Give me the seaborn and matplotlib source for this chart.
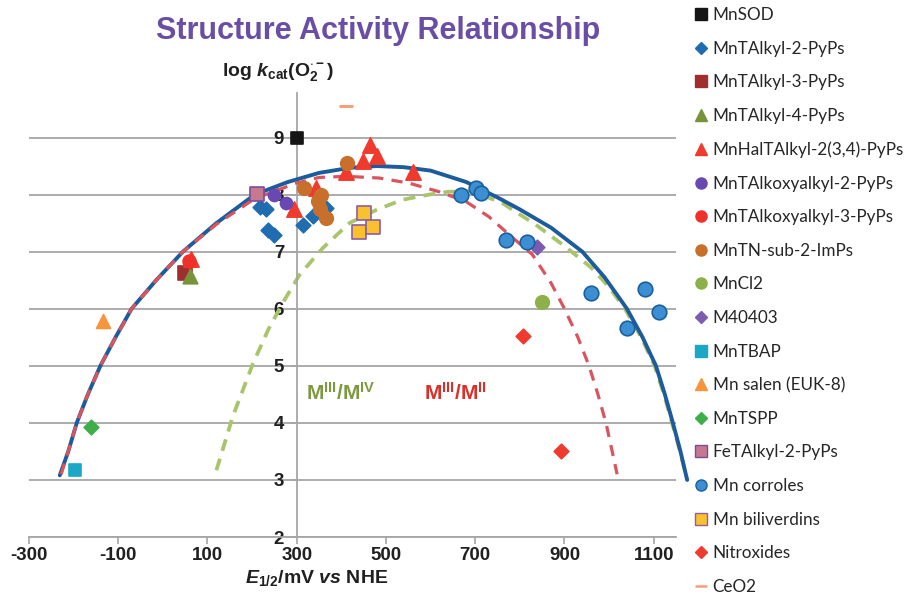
import matplotlib
matplotlib.use("Agg")
import matplotlib.pyplot as plt
import seaborn as sns
import pandas as pd

# ---------------- data ----------------
series = [
    "MnSOD", "MnTAlkyl-2-PyPs", "MnTAlkyl-3-PyPs", "MnTAlkyl-4-PyPs",
    "MnHalTAlkyl-2(3,4)-PyPs", "MnTAlkoxyalkyl-2-PyPs", "MnTAlkoxyalkyl-3-PyPs",
    "MnTN-sub-2-ImPs", "MnCl2", "M40403", "MnTBAP", "Mn salen (EUK-8)", "MnTSPP",
    "FeTAlkyl-2-PyPs", "Mn corroles", "Mn biliverdins", "Nitroxides", "CeO2",
]

mnsod_x = [300]
mnsod_y = [9.0]
alkyl2_x = [217, 232, 236, 250, 314, 336, 366]
alkyl2_y = [7.79, 7.74, 7.38, 7.29, 7.47, 7.63, 7.76]
alkyl3_x = [50]
alkyl3_y = [6.63]
alkyl4_x = [60]
alkyl4_y = [6.57]
hal_x = [464, 448, 481, 411, 560, 344, 293, 62]
hal_y = [8.87, 8.58, 8.67, 8.39, 8.40, 8.11, 7.74, 6.88]
alkoxy2_x = [250, 275]
alkoxy2_y = [7.99, 7.86]
alkoxy3_x = [58]
alkoxy3_y = [6.84]
tnsub_x = [413, 317, 355, 347, 352, 366]
tnsub_y = [8.55, 8.11, 7.99, 7.88, 7.75, 7.59]
mncl2_x = [849]
mncl2_y = [6.11]
m40403_x = [839]
m40403_y = [7.08]
tbap_x = [-197]
tbap_y = [3.17]
salen_x = [-134]
salen_y = [5.79]
tspp_x = [-160]
tspp_y = [3.93]
fe_x = [211]
fe_y = [8.01]
corrole_x = [668, 702, 713, 770, 817, 959, 1080, 1112, 1041]
corrole_y = [7.99, 8.11, 8.02, 7.21, 7.17, 6.27, 6.34, 5.94, 5.66]
bili_x = [450, 440, 472]
bili_y = [7.68, 7.35, 7.43]
nitro_x = [807, 892]
nitro_y = [5.53, 3.50]
ceo2_x = [411]
ceo2_y = [9.56]

# trend curves
blue_x = [-231, -212, -193, -168, -140, -106, -70, -15, 45, 120, 206, 280, 350, 420,
          480, 540, 600, 680, 750, 800, 870, 940, 990, 1040, 1075, 1105, 1125, 1143,
          1160, 1175]
blue_y = [3.08, 3.5, 4.0, 4.5, 5.0, 5.5, 6.0, 6.5, 7.0, 7.5, 8.0, 8.22, 8.38, 8.47,
          8.5, 8.48, 8.42, 8.22, 7.95, 7.74, 7.42, 7.0, 6.55, 6.0, 5.5, 5.0, 4.5, 4.0,
          3.5, 3.0]
red_x = [-228, -212, -193, -168, -140, -106, -70, -15, 45, 120, 206, 299, 350, 411,
         485, 552, 619, 679, 731, 783, 828, 870, 900, 930, 955, 975, 993, 1007, 1018]
red_y = [3.1, 3.5, 4.0, 4.5, 5.0, 5.5, 6.0, 6.5, 7.0, 7.48, 7.93, 8.2, 8.3, 8.32,
         8.29, 8.2, 8.05, 7.88, 7.61, 7.25, 6.95, 6.45, 6.0, 5.5, 5.0, 4.5, 4.0, 3.5, 3.1]
green_x = [120, 157, 202, 236, 270, 306, 358, 418, 478, 537, 597, 640, 694, 761, 836,
           900, 960, 1000, 1037, 1072, 1102, 1123, 1141, 1159, 1175]
green_y = [3.17, 4.12, 5.04, 5.63, 6.12, 6.59, 7.06, 7.5, 7.73, 7.91, 8.0, 8.05, 8.06,
           7.85, 7.47, 7.1, 6.72, 6.38, 5.98, 5.5, 5.0, 4.5, 4.0, 3.5, 3.0]

x_ticks = [-300, -100, 100, 300, 500, 700, 900, 1100]
y_ticks = [2, 3, 4, 5, 6, 7, 8, 9]

# ---------------- styles ----------------
styles = {
    "MnSOD": dict(marker="s", color="#151515", ec="#151515", s=80),
    "MnTAlkyl-2-PyPs": dict(marker="D", color="#1f6db0", ec="#1f6db0", s=55),
    "MnTAlkyl-3-PyPs": dict(marker="s", color="#a12e2e", ec="#a12e2e", s=115),
    "MnTAlkyl-4-PyPs": dict(marker="^", color="#77933c", ec="#77933c", s=110),
    "MnHalTAlkyl-2(3,4)-PyPs": dict(marker="^", color="#ef3a2d", ec="#ef3a2d", s=120),
    "MnTAlkoxyalkyl-2-PyPs": dict(marker="o", color="#6a48b2", ec="#6a48b2", s=75),
    "MnTAlkoxyalkyl-3-PyPs": dict(marker="o", color="#f0312a", ec="#f0312a", s=85),
    "MnTN-sub-2-ImPs": dict(marker="o", color="#c96f2c", ec="#c96f2c", s=95),
    "MnCl2": dict(marker="o", color="#8db04a", ec="#8db04a", s=95),
    "M40403": dict(marker="D", color="#7b5cb0", ec="#7b5cb0", s=55),
    "MnTBAP": dict(marker="s", color="#1ba7c6", ec="#1ba7c6", s=85),
    "Mn salen (EUK-8)": dict(marker="^", color="#f7943f", ec="#f7943f", s=100),
    "MnTSPP": dict(marker="D", color="#3dae4a", ec="#3dae4a", s=55),
    "FeTAlkyl-2-PyPs": dict(marker="s", color="#c6788f", ec="#7a4d9a", s=95),
    "Mn corroles": dict(marker="o", color="#3b8fd2", ec="#1c5f9f", s=110),
    "Mn biliverdins": dict(marker="s", color="#f8c12d", ec="#8e5ea2", s=110),
    "Nitroxides": dict(marker="D", color="#ef3a2d", ec="#ef3a2d", s=55),
    "CeO2": dict(marker="_", color="#f4a07a", ec="#f4a07a", s=110),
}
data_xy = {
    "MnSOD": (mnsod_x, mnsod_y), "MnTAlkyl-2-PyPs": (alkyl2_x, alkyl2_y),
    "MnTAlkyl-3-PyPs": (alkyl3_x, alkyl3_y), "MnTAlkyl-4-PyPs": (alkyl4_x, alkyl4_y),
    "MnHalTAlkyl-2(3,4)-PyPs": (hal_x, hal_y), "MnTAlkoxyalkyl-2-PyPs": (alkoxy2_x, alkoxy2_y),
    "MnTAlkoxyalkyl-3-PyPs": (alkoxy3_x, alkoxy3_y), "MnTN-sub-2-ImPs": (tnsub_x, tnsub_y),
    "MnCl2": (mncl2_x, mncl2_y), "M40403": (m40403_x, m40403_y), "MnTBAP": (tbap_x, tbap_y),
    "Mn salen (EUK-8)": (salen_x, salen_y), "MnTSPP": (tspp_x, tspp_y),
    "FeTAlkyl-2-PyPs": (fe_x, fe_y), "Mn corroles": (corrole_x, corrole_y),
    "Mn biliverdins": (bili_x, bili_y), "Nitroxides": (nitro_x, nitro_y), "CeO2": (ceo2_x, ceo2_y),
}

sns.set_theme(style="white")
plt.rcParams["font.family"] = ["Liberation Sans", "DejaVu Sans"]
plt.rcParams["mathtext.fontset"] = "custom"
plt.rcParams["mathtext.rm"] = "Liberation Sans"
plt.rcParams["mathtext.it"] = "Liberation Sans:italic"
plt.rcParams["mathtext.bf"] = "Liberation Sans:bold"
plt.rcParams["mathtext.bfit"] = "Liberation Sans:italic:bold"

W, H = 907, 597
fig = plt.figure(figsize=(W / 100, H / 100), dpi=100)
ax = fig.add_axes([29 / W, 1 - 537 / H, (676 - 29) / W, (537 - 93) / H])
ax.set_xlim(-300, 1150)
ax.set_ylim(2, 9.78)

# gridlines
ax.set_yticks(y_ticks)
ax.set_xticks(x_ticks)
ax.yaxis.grid(True, color="#a6a6a6", lw=1.3)
ax.xaxis.grid(False)
ax.set_axisbelow(True)

# curves
ax.plot(green_x, green_y, color="#a9c46a", lw=2.7, dashes=(3.2, 2.2), clip_on=False, zorder=2)
ax.plot(blue_x, blue_y, color="#1d5c9c", lw=2.8, clip_on=False, zorder=3)
ax.plot(red_x, red_y, color="#d9545f", lw=2.3, dashes=(3.5, 2.6), clip_on=False, zorder=4)

handles = []
for name in series:
    xs, ys = data_xy[name]
    st = styles[name]
    df = pd.DataFrame({"x": xs, "y": ys})
    if st["marker"] == "_":
        sns.scatterplot(data=df, x="x", y="y", marker="_", color=st["color"], s=st["s"],
                        linewidth=2.2, ax=ax, zorder=5, legend=False)
    else:
        sns.scatterplot(data=df, x="x", y="y", marker=st["marker"], color=st["color"],
                        edgecolor=st["ec"], linewidth=1.2, s=st["s"], ax=ax, zorder=5,
                        legend=False)
    ms = 8 if st["marker"] != "^" else 9
    if st["marker"] == "D":
        ms = 6.5
    h = plt.Line2D([], [], linestyle="none", marker=st["marker"], markersize=ms,
                   markerfacecolor=st["color"], markeredgecolor=st["ec"],
                   markeredgewidth=1.0 if st["marker"] != "_" else 1.8, color=st["color"])
    handles.append(h)

# spines
for sp in ["top", "right"]:
    ax.spines[sp].set_visible(False)
ax.spines["left"].set_position(("data", 300))
ax.spines["left"].set_color("#a6a6a6")
ax.spines["left"].set_linewidth(1.3)
ax.spines["bottom"].set_color("#a6a6a6")
ax.spines["bottom"].set_linewidth(1.3)
ax.tick_params(axis="both", which="both", direction="out", length=5, width=1.2,
               color="#a6a6a6", left=True, bottom=True)
ax.tick_params(axis="y", pad=4)
ax.tick_params(axis="x", pad=2)
tick_font = ["Liberation Sans Narrow", "Liberation Sans"]
ax.set_xticklabels([str(v) for v in x_ticks], fontsize=13.5, fontweight="bold",
                   family=tick_font, color="#202020")
ax.set_yticklabels([str(v) for v in y_ticks], fontsize=13.5, fontweight="bold",
                   family=tick_font, color="#202020")
ax.set_xlabel("")
ax.set_ylabel("")

# annotations
ax.text(321, 4.52, r"M$^{\mathbf{III}}$/M$^{\mathbf{IV}}$", color="#7d9a3e", fontsize=15,
        fontweight="bold", va="center", ha="left")
ax.text(586, 4.52, r"M$^{\mathbf{III}}$/M$^{\mathbf{II}}$", color="#d9302a", fontsize=15,
        fontweight="bold", va="center", ha="left")

fig.text(378 / W, 1 - 31 / H, "Structure Activity Relationship", color="#6a4ea6",
         fontsize=22, fontweight="bold", ha="center", va="center")
fig.text(278 / W, 1 - 72 / H,
         r"log $\mathbfit{k}_{\mathbf{cat}}$(O$_{\mathbf{2}}^{\mathbf{\cdot -}}$)",
         fontsize=14, fontweight="bold", ha="center", va="center", color="#202020")
fig.text(317 / W, 1 - 578 / H, r"$\mathbfit{E}_{\mathbf{1/2}}$/mV $\mathbfit{vs}$ NHE",
         fontsize=14, fontweight="bold", ha="center", va="center", color="#202020")

leg = fig.legend(handles, series, loc="upper left", bbox_to_anchor=(693 / W, 1 - 7 / H),
                 frameon=False, handlelength=0.9, handletextpad=0.25, labelspacing=1.03,
                 borderaxespad=0, borderpad=0,
                 prop={"family": ["Lato", "DejaVu Sans"], "size": 12.3})
for t in leg.get_texts():
    t.set_color("#262626")

fig.savefig("out.png", dpi=100)
